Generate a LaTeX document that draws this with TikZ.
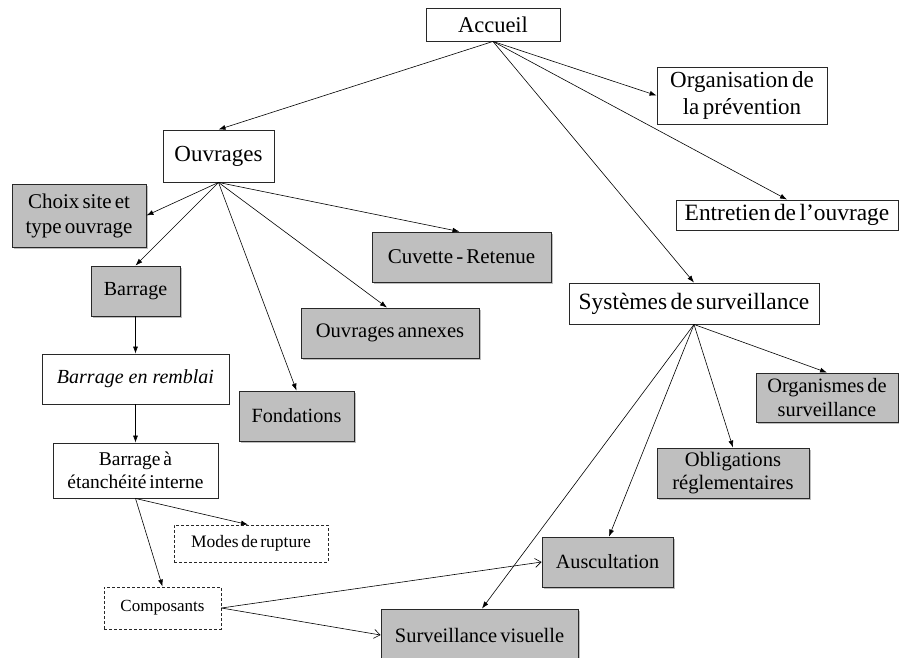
\documentclass[tikz,border=0pt]{standalone}
\usepackage{fontspec}
\setmainfont{Liberation Serif}
\usetikzlibrary{arrows.meta,shadows}
\definecolor{boxgray}{RGB}{191,191,191}
\definecolor{edgegray}{RGB}{40,40,40}
\newcommand{\fsz}[2]{\fontsize{#1}{#2}\selectfont\spaceskip=0.15em plus 0.05em\relax}
\begin{document}
\begin{tikzpicture}[x=1pt,y=-1pt,
  base/.style={draw=edgegray,line width=0.9pt,inner sep=0pt,align=center},
  whitebox/.style={base,fill=white},
  graybox/.style={base,fill=boxgray,
    drop shadow={shadow xshift=1.6pt,shadow yshift=-1.6pt,fill=black,opacity=0.25}},
  dashbox/.style={base,dashed,dash pattern=on 3pt off 2pt,line width=0.8pt},
  link/.style={line width=0.6pt,-{Latex[length=7pt,width=5pt]}},
  openlink/.style={line width=0.6pt,-{Straight Barb[length=6pt,width=9pt]}}
]
\useasboundingbox (0,0) rectangle (899,658);
% nodes
\node[whitebox,minimum width=134pt,minimum height=33pt,font=\fsz{22.5}{26}] (acc) at (493,24.5) {Accueil};
\node[whitebox,minimum width=170pt,minimum height=57pt,font=\fsz{23}{27}] (org) at (742,95.5) {Organisation de\\la prévention};
\node[whitebox,minimum width=222pt,minimum height=30pt,font=\fsz{23.4}{27}] (ent) at (787,215) {Entretien de l’ouvrage};
\node[whitebox,minimum width=250pt,minimum height=41pt,font=\fsz{23.4}{27}] (sys) at (694,303.5) {Systèmes de surveillance};
\node[whitebox,minimum width=111pt,minimum height=52pt,font=\fsz{23}{27}] (ouv) at (218.5,156) {Ouvrages};
\node[graybox,minimum width=134pt,minimum height=63pt,font=\fsz{21}{25}] (cho) at (79,215.5) {Choix site et\\type ouvrage};
\node[graybox,minimum width=89pt,minimum height=50pt,font=\fsz{20}{24}] (bar) at (135.5,291) {Barrage};
\node[graybox,minimum width=179pt,minimum height=50pt,font=\fsz{21}{25}] (cuv) at (461.5,257) {Cuvette - Retenue};
\node[graybox,minimum width=178pt,minimum height=50pt,font=\fsz{20.6}{24}] (ann) at (390,333) {Ouvrages annexes};
\node[graybox,minimum width=115pt,minimum height=50pt,font=\fsz{20.2}{24}] (fon) at (296.5,416) {Fondations};
\node[whitebox,minimum width=187pt,minimum height=50pt,font=\fontsize{20}{24}\selectfont\itshape] (rem) at (135.5,379) {Barrage en remblai};
\node[whitebox,minimum width=165pt,minimum height=55pt,font=\fsz{19.5}{23}] (eta) at (135.5,470.5) {Barrage à\\étanchéité interne};
\node[dashbox,minimum width=154pt,minimum height=37pt,font=\fsz{17.5}{21}] (mod) at (251,543.5) {Modes de rupture};
\node[dashbox,minimum width=117pt,minimum height=42pt,font=\fsz{17}{20}] (com) at (162.5,608) {Composants};
\node[graybox,minimum width=197pt,minimum height=52pt,font=\fsz{20.5}{24}] (vis) at (479.5,635) {Surveillance visuelle};
\node[graybox,minimum width=131pt,minimum height=50pt,font=\fsz{20.2}{24}] (aus) at (607.5,562) {Auscultation};
\node[graybox,minimum width=152pt,minimum height=50pt,font=\fsz{20.6}{23.3}] (obl) at (733,473) {Obligations\\réglementaires};
\node[graybox,minimum width=142pt,minimum height=49pt,font=\fsz{20.4}{24}] (ogs) at (827,397.5) {Organismes de\\surveillance};
% connectors
\draw[link] (acc.south) -- (ouv.north);
\draw[link] (acc.south) -- (org.west);
\draw[link] (acc.south) -- (ent.north);
\draw[link] (acc.south) -- (sys.north);
\draw[link] (ouv.south) -- (cho.east);
\draw[link] (ouv.south) -- (bar.north);
\draw[link] (ouv.south) -- (fon.north);
\draw[link] (ouv.south) -- ([xshift=-3pt]ann.north);
\draw[link] (ouv.south) -- ([xshift=-2pt]cuv.north);
\draw[link] (bar.south) -- (rem.north);
\draw[link] (rem.south) -- (eta.north);
\draw[link] (eta.south) -- ([xshift=-3pt]mod.north);
\draw[link] (eta.south) -- (com.north);
\draw[openlink] (com.east) -- (aus.west);
\draw[openlink] (com.east) -- (vis.west);
\draw[link] (sys.south) -- (ogs.north);
\draw[link] (sys.south) -- (obl.north);
\draw[link] (sys.south) -- ([xshift=1.5pt]aus.north);
\draw[link] (sys.south) -- ([xshift=2.5pt]vis.north);
\end{tikzpicture}
\end{document}
